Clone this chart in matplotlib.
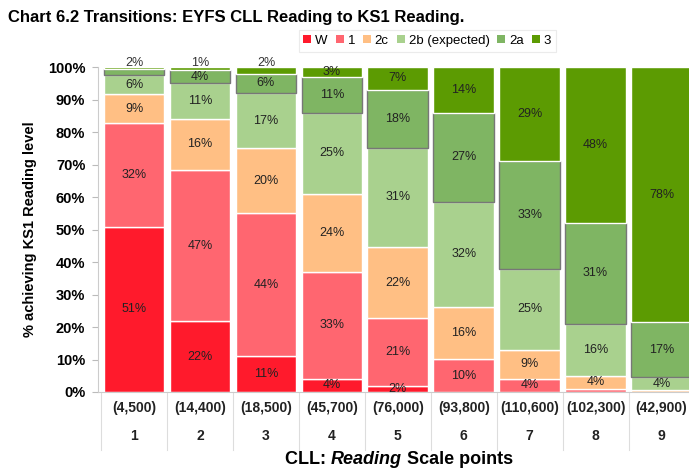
import numpy as np
import matplotlib
matplotlib.use("Agg")
import matplotlib.pyplot as plt
from matplotlib.patches import Patch
import matplotlib.transforms as mtransforms

plt.rcParams['font.family'] = ['Liberation Sans', 'DejaVu Sans']

# data
scale_points = ['1', '2', '3', '4', '5', '6', '7', '8', '9']
pupils = ['(4,500)', '(14,400)', '(18,500)', '(45,700)', '(76,000)',
          '(93,800)', '(110,600)', '(102,300)', '(42,900)']
levels = ['W', '1', '2c', '2b (expected)', '2a', '3']
lvl_W = [51, 22, 11, 4, 2, 0, 0, 0, 0]
lvl_1 = [32, 47, 44, 33, 21, 10, 4, 1, 0]
lvl_2c = [9, 16, 20, 24, 22, 16, 9, 4, 0.5]
lvl_2b = [6, 11, 17, 25, 31, 32, 25, 16, 4]
lvl_2a = [2, 4, 6, 11, 18, 27, 33, 31, 17]
lvl_3 = [0.4, 1, 2, 3, 7, 14, 29, 48, 78]

colors = ['#FF1A2C', '#FF6670', '#FFBF84', '#A9D18E', '#7FB563', '#5C9B02']
edges = ['white', 'white', 'white', 'white', '#777777', 'white']

data = np.array([lvl_W, lvl_1, lvl_2c, lvl_2b, lvl_2a, lvl_3], dtype=float)
pct = data / data.sum(axis=0) * 100

fig = plt.figure(figsize=(6.89, 4.70), dpi=100)
ax = fig.add_axes([0.142, 0.166, 0.866, 0.691])

x = np.arange(len(scale_points))
bottom = np.zeros(len(x))
for i, name in enumerate(levels):
    ax.bar(x, pct[i], bottom=bottom, width=0.92, color=colors[i],
           edgecolor=edges[i], linewidth=1.0, label=name, zorder=2)
    for j in range(len(x)):
        v = data[i, j]
        top = bottom[j] + pct[i, j]
        if top >= 99 and v < 3 and v >= 1:
            ax.text(x[j], 101.4, f'{v:.0f}%', ha='center', va='center',
                    fontsize=9, color='#333333', clip_on=False, zorder=5)
        elif v >= 2:
            ax.text(x[j], bottom[j] + pct[i, j] / 2, f'{v:.0f}%', ha='center',
                    va='center', fontsize=9, color='#222222', zorder=5)
    bottom += pct[i]

ax.set_xlim(-0.55, 8.5)
ax.set_ylim(0, 100)
ax.set_yticks(np.arange(0, 101, 10))
ax.set_yticklabels([f'{t}%' for t in range(0, 101, 10)], fontsize=10.5,
                   fontweight='bold')
ax.tick_params(axis='y', length=4, color='#BBBBBB', pad=5)
ax.set_xticks([])
for s in ['top', 'right']:
    ax.spines[s].set_visible(False)
ax.spines['left'].set_color('#CCCCCC')
ax.spines['bottom'].set_color('#CCCCCC')
ax.set_ylabel('% achieving KS1 Reading level', fontsize=10.5,
              fontweight='bold', labelpad=8)

# category table under the axis
trans = mtransforms.blended_transform_factory(ax.transData, fig.transFigure)
for b in np.arange(-0.5, 9, 1.0):
    ax.plot([b, b], [0.166, 0.042], transform=trans, color='#DDDDDD',
            lw=0.8, clip_on=False)
for j in range(len(x)):
    fig.text(x[j], 0.132, pupils[j], transform=trans, ha='center', va='center',
             fontsize=10, fontweight='bold', color='#222222')
    fig.text(x[j], 0.072, scale_points[j], transform=trans, ha='center',
             va='center', fontsize=10, fontweight='bold', color='#222222')

t1 = fig.text(0.413, 0.022, 'CLL: ', fontsize=13, fontweight='bold',
              va='center', ha='left')
t2 = ax.annotate('Reading', xy=(1, 0), xycoords=t1, fontsize=13,
                 fontweight='bold', fontstyle='italic', va='bottom', ha='left',
                 annotation_clip=False)
ax.annotate(' Scale points', xy=(1, 0), xycoords=t2, fontsize=13,
            fontweight='bold', va='bottom', ha='left', annotation_clip=False)

fig.text(0.012, 0.962, 'Chart 6.2 Transitions: EYFS CLL Reading to KS1 Reading.',
         fontsize=12, fontweight='bold', va='center', ha='left')

handles = [Patch(facecolor=c, edgecolor='none') for c in colors]
leg = fig.legend(handles, levels, loc='center', bbox_to_anchor=(0.620, 0.913),
                 ncol=6, fontsize=9.5, frameon=True, handlelength=0.6,
                 handleheight=0.6, handletextpad=0.3, columnspacing=0.6,
                 borderpad=0.35, fancybox=False)
leg.get_frame().set_edgecolor('#E6E6E6')
leg.get_frame().set_linewidth(0.8)

fig.savefig('out.png', dpi=100)
